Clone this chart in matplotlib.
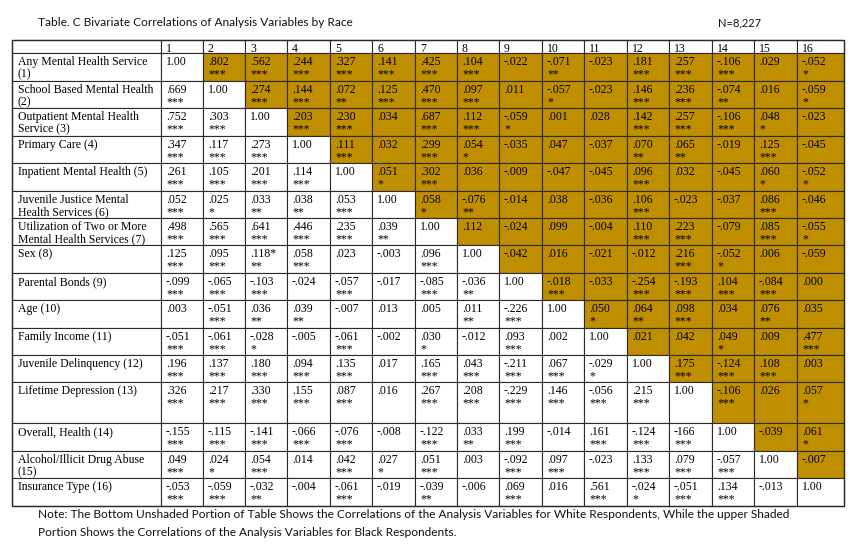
import matplotlib
matplotlib.use("Agg")
import matplotlib.pyplot as plt
from matplotlib.patches import Rectangle

title = "Table. C Bivariate Correlations of Analysis Variables by Race"
n_text = "N=8,227"
note_lines = [
    "Note: The Bottom Unshaded Portion of Table Shows the Correlations of the Analysis Variables for White Respondents, While the upper Shaded",
    "Portion Shows the Correlations of the Analysis Variables for Black Respondents.",
]

col_labels = ["1", "2", "3", "4", "5", "6", "7", "8", "9", "10", "11", "12", "13", "14", "15", "16"]

row_labels = [
    "Any Mental Health Service\n(1)",
    "School Based Mental Health\n(2)",
    "Outpatient Mental Health\nService (3)",
    "Primary Care (4)",
    "Inpatient Mental Health (5)",
    "Juvenile Justice Mental\nHealth Services (6)",
    "Utilization of Two or More\nMental Health Services (7)",
    "Sex (8)",
    "Parental Bonds (9)",
    "Age (10)",
    "Family Income (11)",
    "Juvenile Delinquency (12)",
    "Lifetime Depression (13)",
    "Overall, Health (14)",
    "Alcohol/Illicit Drug Abuse\n(15)",
    "Insurance Type (16)",
]

values = [
    ["1.00", ".802", ".562", ".244", ".327", ".141", ".425", ".104", "-.022", "-.071", "-.023", ".181", ".257", "-.106", ".029", "-.052"],
    [".669", "1.00", ".274", ".144", ".072", ".125", ".470", ".097", ".011", "-.057", "-.023", ".146", ".236", "-.074", ".016", "-.059"],
    [".752", ".303", "1.00", ".203", ".230", ".034", ".687", ".112", "-.059", ".001", ".028", ".142", ".257", "-.106", ".048", "-.023"],
    [".347", ".117", ".273", "1.00", ".111", ".032", ".299", ".054", "-.035", ".047", "-.037", ".070", ".065", "-.019", ".125", "-.045"],
    [".261", ".105", ".201", ".114", "1.00", ".051", ".302", ".036", "-.009", "-.047", "-.045", ".096", ".032", "-.045", ".060", "-.052"],
    [".052", ".025", ".033", ".038", ".053", "1.00", ".058", "-.076", "-.014", ".038", "-.036", ".106", "-.023", "-.037", ".086", "-.046"],
    [".498", ".565", ".641", ".446", ".235", ".039", "1.00", ".112", "-.024", ".099", "-.004", ".110", ".223", "-.079", ".085", "-.055"],
    [".125", ".095", ".118*", ".058", ".023", "-.003", ".096", "1.00", "-.042", ".016", "-.021", "-.012", ".216", "-.052", ".006", "-.059"],
    ["-.099", "-.065", "-.103", "-.024", "-.057", "-.017", "-.085", "-.036", "1.00", "-.018", "-.033", "-.254", "-.193", ".104", "-.084", ".000"],
    [".003", "-.051", ".036", ".039", "-.007", ".013", ".005", ".011", "-.226", "1.00", ".050", ".064", ".098", ".034", ".076", ".035"],
    ["-.051", "-.061", "-.028", "-.005", "-.061", "-.002", ".030", "-.012", ".093", ".002", "1.00", ".021", ".042", ".049", ".009", ".477"],
    [".196", ".137", ".180", ".094", ".135", ".017", ".165", ".043", "-.211", ".067", "-.029", "1.00", ".175", "-.124", ".108", ".003"],
    [".326", ".217", ".330", ".155", ".087", ".016", ".267", ".208", "-.229", ".146", "-.056", ".215", "1.00", "-.106", ".026", ".057"],
    ["-.155", "-.115", "-.141", "-.066", "-.076", "-.008", "-.122", ".033", ".199", "-.014", ".161", "-.124", "-166", "1.00", "-.039", ".061"],
    [".049", ".024", ".054", ".014", ".042", ".027", ".051", ".003", "-.092", ".097", "-.023", ".133", ".079", "-.057", "1.00", "-.007"],
    ["-.053", "-.059", "-.032", "-.004", "-.061", "-.019", "-.039", "-.006", ".069", ".016", ".561", "-.024", "-.051", ".134", "-.013", "1.00"],
]

stars = [
    ["", "***", "***", "***", "***", "***", "***", "***", "", "**", "", "***", "***", "***", "", "*"],
    ["***", "", "***", "***", "**", "***", "***", "***", "", "*", "", "***", "***", "**", "", "*"],
    ["***", "***", "", "***", "***", "", "***", "***", "*", "", "", "***", "***", "***", "*", ""],
    ["***", "***", "***", "", "***", "", "***", "*", "", "", "", "**", "**", "", "***", ""],
    ["***", "***", "***", "***", "", "*", "***", "", "", "", "", "***", "", "", "*", "*"],
    ["***", "*", "**", "**", "***", "", "*", "**", "", "", "", "***", "", "", "***", ""],
    ["***", "***", "***", "***", "***", "**", "", "", "", "", "", "***", "***", "", "***", "*"],
    ["***", "***", "**", "***", "", "", "***", "", "", "", "", "", "***", "*", "", ""],
    ["***", "***", "***", "", "***", "", "***", "**", "", "***", "", "***", "***", "***", "***", ""],
    ["", "***", "**", "**", "", "", "", "**", "***", "", "*", "**", "***", "", "**", ""],
    ["***", "***", "*", "", "***", "", "*", "", "***", "", "", "", "", "*", "", "***"],
    ["***", "***", "***", "***", "***", "", "***", "***", "***", "***", "*", "", "***", "***", "***", ""],
    ["***", "***", "***", "***", "***", "", "***", "***", "***", "***", "***", "***", "", "***", "", "*"],
    ["***", "***", "***", "***", "***", "", "***", "**", "***", "", "***", "***", "***", "", "", "*"],
    ["***", "*", "***", "", "***", "*", "***", "", "***", "***", "", "***", "***", "***", "", ""],
    ["***", "***", "**", "", "***", "", "**", "", "***", "", "***", "*", "***", "***", "", ""],
]

# ---- layout (pixel coordinates) ----
W, H = 858, 549
col_edges = [12, 161, 203, 245, 287, 330, 372, 415, 457, 499, 542, 584, 627, 669, 712, 754, 797, 844]
row_edges = [40, 53, 81, 108, 136, 163, 191, 218, 245, 273, 300, 328, 355, 382, 423, 451, 478, 506]
gold = "#BF8F00"
edge = "#2b2b2b"
serif = ["Liberation Serif", "DejaVu Serif"]
sans = ["Lato", "Liberation Sans", "DejaVu Sans"]
fs = 8.5
base = 11.8
line2 = 12.5

fig = plt.figure(figsize=(W / 100, H / 100), dpi=100)
ax = fig.add_axes([0, 0, 1, 1])
ax.set_xlim(0, W)
ax.set_ylim(H, 0)
ax.axis("off")

# header row
for j in range(len(col_edges) - 1):
    x0, x1 = col_edges[j], col_edges[j + 1]
    y0, y1 = row_edges[0], row_edges[1]
    ax.add_patch(Rectangle((x0, y0), x1 - x0, y1 - y0, facecolor="white",
                           edgecolor=edge, linewidth=0.8))
    if j > 0:
        ax.text(x0 + 5, y0 + base, col_labels[j - 1], fontsize=fs, family=serif,
                va="baseline", ha="left", color="black")

# body rows
for i, lab in enumerate(row_labels):
    y0, y1 = row_edges[i + 1], row_edges[i + 2]
    ax.add_patch(Rectangle((col_edges[0], y0), col_edges[1] - col_edges[0], y1 - y0,
                           facecolor="white", edgecolor=edge, linewidth=0.8))
    for k, part in enumerate(lab.split("\n")):
        ax.text(col_edges[0] + 6, y0 + base + k * line2, part, fontsize=fs,
                family=serif, va="baseline", ha="left", color="black")
    for j in range(len(col_labels)):
        x0, x1 = col_edges[j + 1], col_edges[j + 2]
        fc = gold if j > i else "white"
        ax.add_patch(Rectangle((x0, y0), x1 - x0, y1 - y0, facecolor=fc,
                               edgecolor=edge, linewidth=0.8))
        ax.text(x0 + 5, y0 + base, values[i][j], fontsize=fs, family=serif,
                va="baseline", ha="left", color="black")
        if stars[i][j]:
            ax.text(x0 + 5, y0 + base + line2, stars[i][j], fontsize=fs,
                    family=serif, va="baseline", ha="left", color="black")

ax.add_patch(Rectangle((col_edges[0], row_edges[0]), col_edges[-1] - col_edges[0],
                       row_edges[-1] - row_edges[0], facecolor="none",
                       edgecolor=edge, linewidth=1.0))


def fit_text(x, y, s, target_w, size=9):
    t = ax.text(x, y, s, fontsize=size, family=sans, va="baseline", ha="left",
                color="#111111")
    fig.canvas.draw()
    w = t.get_window_extent(renderer=fig.canvas.get_renderer()).width
    t.set_fontsize(size * target_w / w)
    return t


fit_text(38, 26, title, 314)
fit_text(718, 26, n_text, 43)
fit_text(38, 518, note_lines[0], 752)
fit_text(38, 536, note_lines[1], 418)

fig.savefig("out.png", dpi=100)
